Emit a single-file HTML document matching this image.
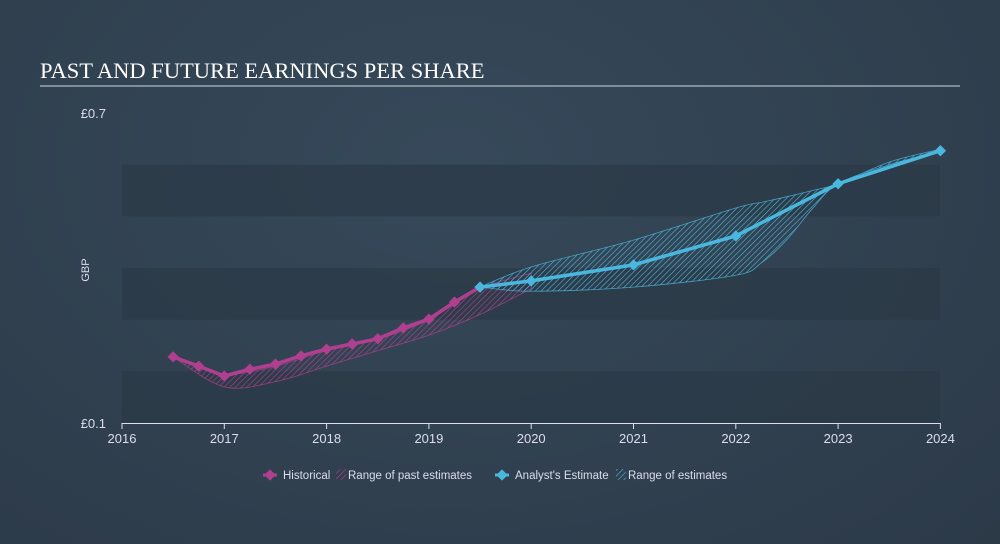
<!DOCTYPE html>
<html><head><meta charset="utf-8"><style>
body{margin:0;width:1000px;height:544px;overflow:hidden;background:radial-gradient(ellipse at 45% 30%,#36495a 0%,#2c3a48 100%);font-family:"Liberation Sans",sans-serif}
</style></head><body>
<svg id="c" width="1000" height="544" style="position:absolute;left:0;top:0">
<defs>
<pattern id="hp" width="4" height="4" patternUnits="userSpaceOnUse" patternTransform="rotate(45)"><line x1="0" y1="0" x2="0" y2="4" stroke="#b0408f" stroke-width="1.2"/></pattern>
<pattern id="fp" width="4" height="4" patternUnits="userSpaceOnUse" patternTransform="rotate(45)"><line x1="0" y1="0" x2="0" y2="4" stroke="#4ab8de" stroke-width="1.2"/></pattern>
</defs>
<text x="40" y="78" fill="#fff" font-family="Liberation Serif,serif" font-size="22.5">PAST AND FUTURE EARNINGS PER SHARE</text>
<line x1="40" y1="86" x2="960" y2="86" stroke="#cfd6dc" stroke-width="1"/>
<text x="106" y="118" fill="#dde" font-size="13" text-anchor="end">£0.7</text>
<text x="106" y="428" fill="#dde" font-size="13" text-anchor="end">£0.1</text>
<text x="89" y="270" fill="#dde" font-size="11" text-anchor="middle" transform="rotate(-90 89 270)">GBP</text>
<g id="bands"></g><g id="areas"></g><g id="lines"></g><g id="axis"></g>
<g font-size="11.5" fill="#dde">
<line x1="263" y1="475" x2="277" y2="475" stroke="#b0408f" stroke-width="3"/><rect x="266" y="471" width="8" height="8" fill="#b0408f" transform="rotate(45 270 475)"/>
<text x="283" y="479">Historical</text>
<rect x="336" y="469" width="10" height="11" fill="url(#hp)"/>
<text x="348" y="479">Range of past estimates</text>
<line x1="495" y1="475" x2="509" y2="475" stroke="#4ab8de" stroke-width="3"/><rect x="498" y="471" width="8" height="8" fill="#4ab8de" transform="rotate(45 502 475)"/>
<text x="515" y="479">Analyst's Estimate</text>
<rect x="616" y="469" width="10" height="11" fill="url(#fp)"/>
<text x="628" y="479">Range of estimates</text>
</g>
</svg>
<script>
const histX=[2016.5,2016.75,2017,2017.25,2017.5,2017.75,2018,2018.25,2018.5,2018.75,2019,2019.25,2019.5];
const histY=[0.228,0.21,0.191,0.204,0.214,0.23,0.243,0.253,0.263,0.284,0.301,0.334,0.363];
const pastRangeX=[2016.5,2017,2017.5,2018,2018.5,2019,2019.5,2020];
const pastHi=[0.228,0.195,0.21,0.24,0.262,0.3,0.36,0.39];
const pastLo=[0.228,0.17,0.18,0.21,0.24,0.27,0.31,0.36];
const fcX=[2019.5,2020,2021,2022,2023,2024];
const fcY=[0.363,0.375,0.406,0.462,0.563,0.627];
const fRangeX=[2019.5,2020,2021,2022,2022.25,2022.5,2022.75,2023,2023.5,2024];
const fHi=[0.363,0.402,0.454,0.516,0.527,0.538,0.55,0.563,0.605,0.63];
const fLo=[0.363,0.355,0.363,0.386,0.41,0.455,0.515,0.563,0.6,0.625];
const xTicks=[2016,2017,2018,2019,2020,2021,2022,2023,2024];
const X=v=>122+(v-2016)*102.3, Y=v=>423-(v-0.1)*516.7;
const NS="http://www.w3.org/2000/svg";
function mk(p,t,a){const e=document.createElementNS(NS,t);for(const k in a)e.setAttribute(k,a[k]);document.getElementById(p).appendChild(e);return e;}
[[0.1,0.2],[0.3,0.4],[0.5,0.6]].forEach(b=>{const r=mk('bands','rect',{x:122,y:Y(b[1]),width:818,height:Y(b[0])-Y(b[1]),fill:'#2b3946',opacity:0.7});

});
function smooth(pts,start){let d=start?'M'+pts[0][0]+','+pts[0][1]:'L'+pts[0][0]+','+pts[0][1];
for(let i=0;i<pts.length-1;i++){const p0=pts[i-1]||pts[i],p1=pts[i],p2=pts[i+1],p3=pts[i+2]||p2;
d+=`C${p1[0]+(p2[0]-p0[0])/6},${p1[1]+(p2[1]-p0[1])/6} ${p2[0]-(p3[0]-p1[0])/6},${p2[1]-(p3[1]-p1[1])/6} ${p2[0]},${p2[1]}`;}return d;}
function area(xs,hi,lo,fill,stroke,name){const up=xs.map((x,i)=>[X(x),Y(hi[i])]);const dn=xs.map((x,i)=>[X(x),Y(lo[i])]).reverse();
const d=smooth(up,true)+smooth(dn,false)+'Z';
const p=mk('areas','path',{d:d,fill:fill,stroke:stroke,'stroke-width':0.8,'stroke-opacity':0.8});

}
area(pastRangeX,pastHi,pastLo,'url(#hp)','#b0408f','past-estimate-range');
area(fRangeX,fHi,fLo,'url(#fp)','#4ab8de','future-estimate-range');
function series(xs,ys,col,name){const l=mk('lines','polyline',{points:xs.map((x,i)=>X(x)+','+Y(ys[i])).join(' '),fill:'none',stroke:col,'stroke-width':3.5});


xs.forEach((x,i)=>{const m=mk('lines','rect',{x:X(x)-4,y:Y(ys[i])-4,width:8,height:8,fill:col,transform:`rotate(45 ${X(x)} ${Y(ys[i])})`});

});}
series(histX,histY,'#b0408f','historical');
series(fcX,fcY,'#4ab8de','analyst-estimate');
mk('axis','line',{x1:122,y1:423.5,x2:940,y2:423.5,stroke:'#dde','stroke-width':1});
xTicks.forEach(t=>{mk('axis','line',{x1:X(t),y1:423,x2:X(t),y2:429,stroke:'#dde'});
const tx=mk('axis','text',{x:X(t),y:443,fill:'#dde','font-size':13,'text-anchor':'middle'});tx.textContent=t;

});
</script>
</body></html>
